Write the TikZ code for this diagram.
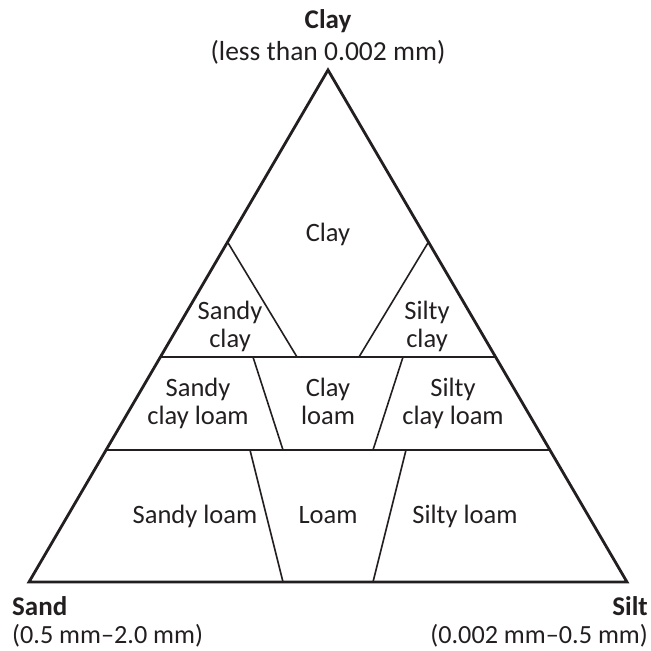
\documentclass[tikz,border=0pt]{standalone}
\usepackage{fontspec}
\setmainfont{Carlito}
\usetikzlibrary{calc}
\definecolor{ink}{HTML}{231F20}
\begin{document}
\begin{tikzpicture}[x=1pt,y=-1pt,
  outline/.style={draw=ink,line width=2.8pt,line join=miter},
  divider/.style={draw=ink,line width=1.6pt},
  title/.style={inner sep=0pt,text=ink,font=\fontsize{27}{30}\selectfont\bfseries},
  subtitle/.style={inner sep=0pt,text=ink,font=\fontsize{27.5}{30}\selectfont},
  subtitlelow/.style={inner sep=0pt,text=ink,font=\fontsize{26.2}{30}\selectfont},
  region/.style={inner sep=0pt,text=ink,align=center,font=\fontsize{26.5}{28}\selectfont}]
\useasboundingbox (0,0) rectangle (651,651);
% corners of the triangle
\coordinate (A) at (328,70);
\coordinate (B) at (29,582);
\coordinate (C) at (627,582);
% points on the sides
\coordinate (L1) at ($(B)!0.664!(A)$);
\coordinate (R1) at ($(C)!0.664!(A)$);
\coordinate (L2) at ($(B)!0.4395!(A)$);
\coordinate (R2) at ($(C)!0.4395!(A)$);
\coordinate (L3) at ($(B)!0.2578!(A)$);
\coordinate (R3) at ($(C)!0.2578!(A)$);
% inner points
\coordinate (sc) at (297,357);
\coordinate (stc) at (359,357);
\coordinate (cl1) at (253,357);
\coordinate (cl2) at (283,450);
\coordinate (cr1) at (403,357);
\coordinate (cr2) at (373,450);
\coordinate (ll1) at (250,450);
\coordinate (ll2) at (283,582);
\coordinate (lr1) at (406,450);
\coordinate (lr2) at (373,582);
% dividers
\draw[divider] (L2) -- (R2);
\draw[divider] (L3) -- (R3);
\draw[divider] (L1) -- (sc);
\draw[divider] (R1) -- (stc);
\draw[divider] (cl1) -- (cl2);
\draw[divider] (cr1) -- (cr2);
\draw[divider] (ll1) -- (ll2);
\draw[divider] (lr1) -- (lr2);
% outline
\draw[outline] (A) -- (B) -- (C) -- cycle;
% corner labels
\node[title,anchor=base] (tclay) at (328,28) {Clay};
\node[subtitle,anchor=base] (tclaysub) at (328,60) {(less than 0.002 mm)};
\node[title,anchor=base west] (tsand) at (12,615) {Sand};
\node[subtitlelow,anchor=base west] (tsandsub) at (12,643) {(0.5 mm–2.0 mm)};
\node[title,anchor=base east] (tsilt) at (648,615) {Silt};
\node[subtitlelow,anchor=base east] (tsiltsub) at (648,643) {(0.002 mm–0.5 mm)};
% region labels (base = baseline of the last line)
\node[region,anchor=base] (rclay) at (328,241) {Clay};
\node[region,anchor=base] (rsandyclay) at (230,347) {Sandy\\clay};
\node[region,anchor=base] (rsiltyclay) at (427,347) {Silty\\clay};
\node[region,anchor=base] (rscl) at (198,424) {Sandy\\clay loam};
\node[region,anchor=base] (rcl) at (328,424) {Clay\\loam};
\node[region,anchor=base] (rstcl) at (453,424) {Silty\\clay loam};
\node[region,anchor=base] (rsl) at (195,523) {Sandy loam};
\node[region,anchor=base] (rl) at (328,523) {Loam};
\node[region,anchor=base] (rstl) at (465,523) {Silty loam};
\end{tikzpicture}
\end{document}
